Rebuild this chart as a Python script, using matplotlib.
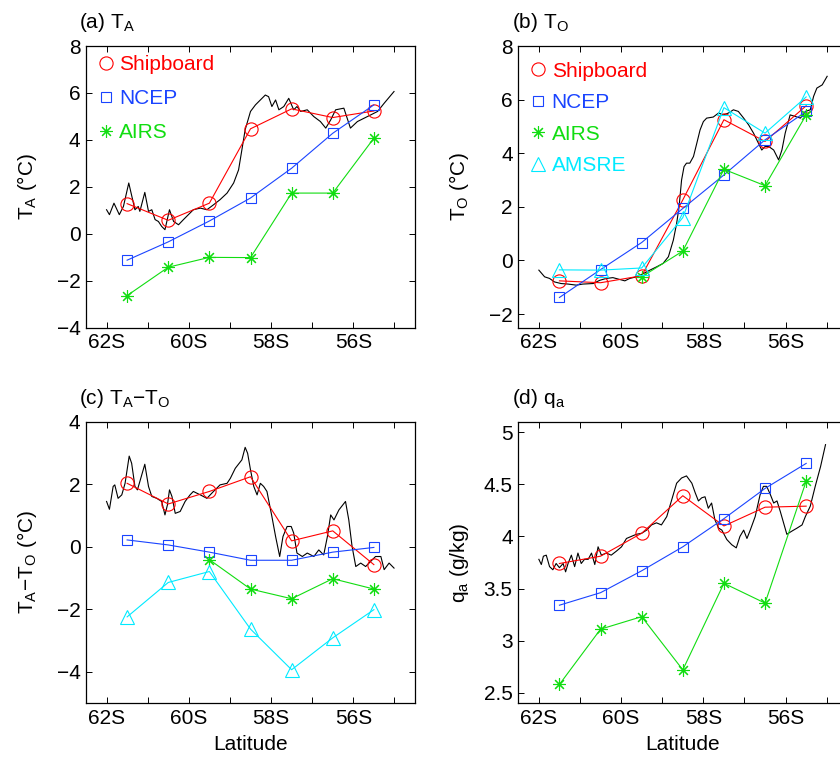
import numpy as np
import matplotlib.pyplot as plt
from matplotlib.lines import Line2D

plt.rcParams['font.family'] = ['Liberation Sans', 'DejaVu Sans']
plt.rcParams['font.size'] = 15

nan = np.nan

# station latitudes (negative = south)
lat = [-61.5, -60.5, -59.5, -58.5, -57.5, -56.5, -55.5]

# (a) air temperature
ta_ship = [1.28, 0.57, 1.30, 4.47, 5.32, 4.95, 5.23]
ta_ncep = [-1.13, -0.35, 0.54, 1.52, 2.79, 4.28, 5.49]
ta_airs = [-2.64, -1.43, -1.01, -1.02, 1.73, 1.73, 4.07]

# (b) ocean temperature
to_ship = [-0.76, -0.83, -0.57, 2.26, 5.25, 4.44, 5.77]
to_ncep = [-1.38, -0.34, 0.67, 1.94, 3.19, 4.50, 5.56]
to_airs = [nan, nan, -0.61, 0.35, 3.40, 2.79, 5.43]
to_amsre = [-0.35, -0.36, -0.28, 1.60, 5.70, 4.75, 6.10]

# (c) air-sea temperature difference
dt_ship = [2.03, 1.37, 1.77, 2.24, 0.19, 0.51, -0.57]
dt_ncep = [0.22, 0.06, -0.17, -0.43, -0.43, -0.17, -0.02]
dt_airs = [nan, nan, -0.41, -1.35, -1.66, -1.02, -1.35]
dt_amsre = [-2.24, -1.14, -0.79, -2.63, -3.93, -2.91, -2.01]

# (d) specific humidity
qa_ship = [3.74, 3.81, 4.03, 4.39, 4.10, 4.28, 4.29]
qa_ncep = [3.34, 3.46, 3.67, 3.90, 4.17, 4.46, 4.70]
qa_airs = [2.58, 3.11, 3.23, 2.72, 3.55, 3.36, 4.53]

# continuous shipboard track (black lines)
trk_lat_a = [-62.00, -61.93, -61.82, -61.69, -61.59, -61.46, -61.31, -61.23, -61.19, -61.07,
             -60.98, -60.90, -60.82, -60.74, -60.66, -60.58, -60.47, -60.37, -60.25, -60.13,
             -60.01, -59.89, -59.72, -59.56, -59.40, -59.24, -59.07, -58.91, -58.79, -58.71,
             -58.63, -58.50, -58.38, -58.26, -58.14, -58.06, -57.98, -57.89, -57.81, -57.69,
             -57.57, -57.45, -57.37, -57.28, -57.12, -56.96, -56.80, -56.67, -56.55, -56.43,
             -56.23, -56.07, -55.90, -55.74, -55.58, -55.41, -55.25, -55.01]
trk_ta = [1.02, 0.81, 1.30, 0.81, 1.16, 2.16, 1.02, 1.16, 0.95, 1.76,
          0.95, 1.02, 0.60, 0.52, 0.31, 0.17, 1.02, 0.52, 0.38, 0.60,
          0.81, 1.02, 1.09, 1.02, 1.23, 1.45, 1.73, 2.16, 2.72, 3.57,
          4.43, 5.21, 5.49, 5.70, 5.91, 5.84, 5.42, 5.70, 5.28, 5.42,
          5.77, 5.28, 5.42, 5.21, 5.28, 4.99, 4.78, 4.50, 4.85, 5.28,
          5.35, 4.50, 4.78, 4.92, 5.06, 5.21, 5.56, 6.06]

trk_lat_b = [-62.00, -61.86, -61.74, -61.62, -61.46, -61.29, -61.09, -60.93, -60.68, -60.52,
             -60.36, -60.20, -60.03, -59.91, -59.79, -59.63, -59.46, -59.30, -59.14, -58.98,
             -58.85, -58.73, -58.65, -58.59, -58.53, -58.47, -58.41, -58.33, -58.24, -58.16,
             -58.08, -58.00, -57.92, -57.76, -57.63, -57.51, -57.39, -57.27, -57.15, -57.02,
             -56.90, -56.78, -56.66, -56.58, -56.50, -56.41, -56.29, -56.17, -56.09, -56.01,
             -55.89, -55.76, -55.64, -55.52, -55.40, -55.32, -55.24, -55.11, -54.99]
trk_to = [-0.36, -0.61, -0.67, -0.80, -0.86, -0.88, -0.92, -0.88, -0.86, -0.74,
          -0.67, -0.64, -0.71, -0.76, -0.67, -0.61, -0.49, -0.36, -0.24, -0.11,
          0.14, 0.76, 1.38, 2.01, 3.00, 3.50, 3.63, 3.63, 3.88, 4.37,
          4.87, 5.18, 5.31, 5.35, 5.50, 5.43, 5.50, 5.62, 5.56, 5.31,
          5.06, 4.75, 4.37, 4.12, 4.25, 4.25, 4.12, 3.75, 4.12, 4.75,
          5.43, 5.37, 5.31, 5.56, 5.62, 6.12, 6.43, 6.55, 6.87]

trk_lat_c = [-62.00, -61.93, -61.84, -61.80, -61.72, -61.63, -61.55, -61.45, -61.39, -61.31,
             -61.25, -61.19, -61.07, -60.98, -60.90, -60.78, -60.66, -60.58, -60.52, -60.47,
             -60.41, -60.33, -60.21, -60.09, -59.97, -59.89, -59.72, -59.56, -59.40, -59.24,
             -59.07, -58.99, -58.87, -58.71, -58.63, -58.57, -58.50, -58.42, -58.34, -58.26,
             -58.18, -58.10, -57.98, -57.89, -57.79, -57.71, -57.61, -57.51, -57.45, -57.37,
             -57.24, -57.12, -56.96, -56.84, -56.72, -56.63, -56.55, -56.47, -56.35, -56.19,
             -56.11, -56.03, -55.94, -55.82, -55.70, -55.58, -55.46, -55.33, -55.25, -55.13,
             -55.01]
trk_dt = [1.45, 1.20, 1.93, 1.98, 1.55, 1.66, 2.03, 2.90, 2.67, 1.93,
          1.82, 2.09, 2.64, 1.93, 1.61, 1.55, 1.45, 1.02, 1.34, 1.82,
          1.61, 1.07, 1.13, 1.45, 1.66, 1.77, 1.66, 1.55, 1.77, 1.98,
          2.03, 2.19, 2.51, 2.78, 3.18, 2.99, 2.46, 1.93, 1.66, 2.03,
          1.93, 1.77, 0.97, 0.33, -0.31, 0.33, 0.65, 0.65, 0.44, -0.20,
          -0.31, -0.20, -0.31, -0.10, -0.26, 0.33, 1.02, 0.86, 1.18, 1.45,
          0.86, 0.01, -0.63, -0.52, -0.63, -0.47, -0.31, -0.31, -0.73, -0.52,
          -0.68]

trk_lat_d = [-62.00, -61.94, -61.89, -61.82, -61.74, -61.66, -61.58, -61.50, -61.41, -61.35,
             -61.29, -61.21, -61.13, -61.05, -60.97, -60.89, -60.80, -60.72, -60.64, -60.56,
             -60.48, -60.36, -60.24, -60.11, -59.99, -59.87, -59.75, -59.63, -59.50, -59.38,
             -59.26, -59.14, -59.02, -58.89, -58.77, -58.65, -58.53, -58.41, -58.28, -58.20,
             -58.12, -58.04, -57.96, -57.88, -57.80, -57.72, -57.63, -57.55, -57.43, -57.31,
             -57.20, -57.11, -57.02, -56.94, -56.86, -56.74, -56.62, -56.54, -56.46, -56.37,
             -56.29, -56.21, -56.13, -56.05, -55.97, -55.85, -55.72, -55.60, -55.52, -55.40,
             -55.28, -55.15, -55.03]
trk_qa = [3.78, 3.73, 3.81, 3.82, 3.71, 3.68, 3.74, 3.70, 3.74, 3.66,
          3.74, 3.82, 3.71, 3.84, 3.74, 3.78, 3.78, 3.84, 3.73, 3.90,
          3.82, 3.84, 3.82, 3.86, 3.90, 3.98, 4.00, 4.02, 4.03, 4.06,
          4.11, 4.13, 4.11, 4.19, 4.35, 4.51, 4.56, 4.58, 4.51, 4.42,
          4.34, 4.37, 4.38, 4.27, 4.32, 4.16, 4.08, 4.06, 3.97, 3.92,
          3.89, 4.00, 4.06, 3.98, 4.06, 4.19, 4.40, 4.48, 4.48, 4.40,
          4.32, 4.34, 4.24, 4.13, 4.02, 4.05, 4.08, 4.11, 4.19, 4.29,
          4.48, 4.67, 4.88]

xticks = [-62, -61, -60, -59, -58, -57, -56, -55]
xticklabels = ['62S', '', '60S', '', '58S', '', '56S', '']

RED, BLUE, GREEN, CYAN = '#ff0000', '#1a44ff', '#11dd11', '#00eaff'
series_style = {
    'Shipboard': dict(color=RED, marker='o', ms=9.5),
    'NCEP': dict(color=BLUE, marker='s', ms=7.5),
    'AIRS': dict(color=GREEN, marker=(8, 2, 0), ms=9),
    'AMSRE': dict(color=CYAN, marker='^', ms=10.5),
}

W, H = 840, 760
fig = plt.figure(figsize=(W / 100, H / 100), dpi=100)
ax_w, ax_h = 329, 281.5
lefts = [86, 518.3]
tops = [46, 421.7]
axs = {}
for key, (lx, ty) in zip('abcd', [(lefts[0], tops[0]), (lefts[1], tops[0]),
                                  (lefts[0], tops[1]), (lefts[1], tops[1])]):
    axs[key] = fig.add_axes([lx / W, 1 - (ty + ax_h) / H, ax_w / W, ax_h / H])


def draw(ax, trk_x, trk_y, series):
    ax.plot(trk_x, trk_y, color='k', lw=0.8, zorder=2)
    handles = []
    for name, vals in series:
        st = series_style[name]
        ax.plot(lat, vals, color=st['color'], lw=0.8, marker=st['marker'], ms=st['ms'],
                mfc='none', mec=st['color'], mew=0.8, zorder=3)
        handles.append(Line2D([], [], ls='none', color=st['color'], marker=st['marker'],
                              ms=st['ms'], mfc='none', mew=0.8, label=name))
    return handles


def style(ax, ylim, yticks, yticklabels, ylabel, title, xlabel=None):
    ax.set_xlim(-62.5, -54.5)
    ax.set_ylim(*ylim)
    ax.set_xticks(xticks)
    ax.set_xticklabels(xticklabels)
    ax.set_yticks(yticks)
    ax.set_yticklabels(yticklabels)
    ax.tick_params(direction='in', top=True, right=True, length=4, width=0.7,
                   pad=4, labelsize=15)
    for sp in ax.spines.values():
        sp.set_linewidth(0.9)
    ax.set_ylabel(ylabel, fontsize=15)
    ax.yaxis.set_label_coords(-0.18, 0.5)
    ax.yaxis.label.set_va('center')
    if xlabel:
        ax.set_xlabel(xlabel, fontsize=15, labelpad=5)
    ax.text(-0.02, 1.064, title, transform=ax.transAxes, ha='left', va='baseline',
            fontsize=15)


def legend(ax, handles, spacing, top=1.0):
    ax.legend(handles=handles, loc='upper left', bbox_to_anchor=(0, top), borderaxespad=0,
              borderpad=0.45, handlelength=1.0, handletextpad=0.15, labelspacing=spacing,
              frameon=False, labelcolor='linecolor', fontsize=15)


h = draw(axs['a'], trk_lat_a, trk_ta,
         [('Shipboard', ta_ship), ('NCEP', ta_ncep), ('AIRS', ta_airs)])
legend(axs['a'], h, 0.72)
style(axs['a'], (-4, 8), [-4, -2, 0, 2, 4, 6, 8], ['−4', '−2', '0', '2', '4', '6', '8'],
      r'$\mathregular{T_A}$ (°C)', r'(a) $\mathregular{T_A}$')

h = draw(axs['b'], trk_lat_b, trk_to,
         [('Shipboard', to_ship), ('NCEP', to_ncep), ('AIRS', to_airs), ('AMSRE', to_amsre)])
legend(axs['b'], h, 0.6, top=0.978)
style(axs['b'], (-2.5, 8), [-2, 0, 2, 4, 6, 8], ['−2', '0', '2', '4', '6', '8'],
      r'$\mathregular{T_O}$ (°C)', r'(b) $\mathregular{T_O}$')

draw(axs['c'], trk_lat_c, trk_dt,
     [('Shipboard', dt_ship), ('NCEP', dt_ncep), ('AIRS', dt_airs), ('AMSRE', dt_amsre)])
style(axs['c'], (-5, 4), [-4, -2, 0, 2, 4], ['−4', '−2', '0', '2', '4'],
      r'$\mathregular{T_A}$−$\mathregular{T_O}$ (°C)',
      r'(c) $\mathregular{T_A}$−$\mathregular{T_O}$', xlabel='Latitude')

draw(axs['d'], trk_lat_d, trk_qa,
     [('Shipboard', qa_ship), ('NCEP', qa_ncep), ('AIRS', qa_airs)])
style(axs['d'], (2.4, 5.1), [2.5, 3, 3.5, 4, 4.5, 5], ['2.5', '3', '3.5', '4', '4.5', '5'],
      r'$\mathregular{q_a}$ (g/kg)', r'(d) $\mathregular{q_a}$', xlabel='Latitude')

fig.savefig('out.png', dpi=100)
